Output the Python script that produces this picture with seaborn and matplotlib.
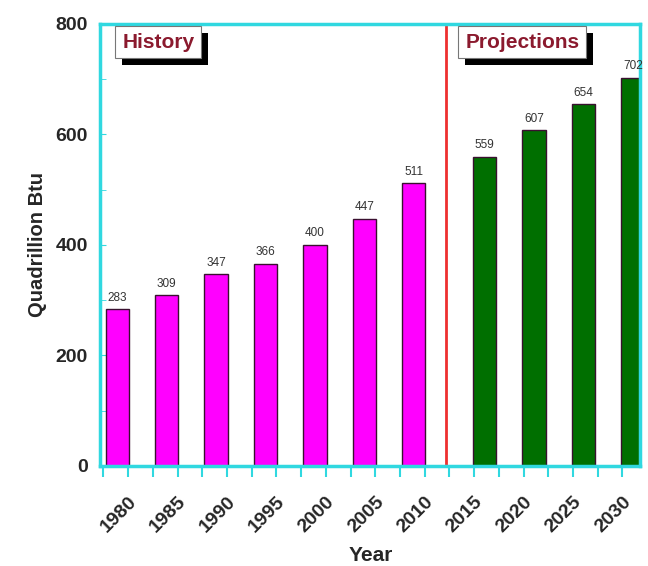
import matplotlib
matplotlib.use("Agg")
import matplotlib.pyplot as plt
import matplotlib.patheffects as pe
import matplotlib.transforms as mtransforms
from matplotlib.ticker import MultipleLocator
import seaborn as sns
import pandas as pd

# data
hist_years = [1980, 1985, 1990, 1995, 2000, 2005, 2010]
hist_values = [283, 309, 347, 366, 400, 447, 511]
proj_years = [2015, 2020, 2025, 2030]
proj_values = [559, 607, 654, 702]
tick_years = [1980, 1985, 1990, 1995, 2000, 2005, 2010, 2015, 2020, 2025, 2030]

sns.set_style("white")
plt.rcParams['font.family'] = ['Liberation Sans', 'DejaVu Sans']

df = pd.DataFrame({
    "year": hist_years + proj_years,
    "value": hist_values + proj_values,
    "period": ["History"] * len(hist_years) + ["Projections"] * len(proj_years),
})
# the original draws history bars left of their labels, projections right of them
df["pos"] = df["year"] + df["period"].map({"History": -1.1, "Projections": 1.05})

fig = plt.figure(figsize=(6.48, 5.66), dpi=100)
ax = fig.add_axes([0.155, 0.177, 0.833, 0.781])

sns.barplot(data=df, x="pos", y="value", hue="period", native_scale=True,
            palette={"History": "#ff00ff", "Projections": "#006f00"},
            saturation=1, width=0.47, edgecolor="#3a1030", linewidth=1.0,
            legend=False, dodge=False, ax=ax)

for x, v in zip(df["pos"], df["value"]):
    ax.text(x, v + 10, str(v), ha="center", va="bottom", fontsize=8.5, color="#333333")

ax.axvline(2012.2, color="#ee3030", lw=2)

ax.set_xlim(1977.2, 2031.8)
ax.set_ylim(0, 800)
ax.set_xticks(tick_years)
ax.set_xticklabels([str(y) for y in tick_years], rotation=45, ha="right", va="top",
                   rotation_mode="anchor", fontsize=14, fontweight="bold")
shift = mtransforms.ScaledTranslation(-1 / 72, 0, fig.dpi_scale_trans)
for lab in ax.get_xticklabels():
    lab.set_transform(lab.get_transform() + shift)
ax.xaxis.set_minor_locator(MultipleLocator(2.5))
ax.set_yticks([0, 200, 400, 600, 800])
ax.set_yticklabels(["0", "200", "400", "600", "800"], fontsize=14, fontweight="bold")
ax.yaxis.set_minor_locator(MultipleLocator(100))
ax.tick_params(axis="x", which="both", direction="out", length=8, color="#30d8e0",
               width=1.5, bottom=True, pad=12)
ax.tick_params(axis="y", which="both", direction="in", length=4, color="#30d8e0",
               left=True, pad=9)
ax.set_xlabel("Year", fontsize=15, fontweight="bold", labelpad=7)
ax.set_ylabel("Quadrillion Btu", fontsize=14.5, fontweight="bold", labelpad=6)

for s in ax.spines.values():
    s.set_color("#30d8e0")
    s.set_linewidth(2.5)

shadow = [pe.SimplePatchShadow(offset=(5, -5), shadow_rgbFace="black", alpha=1.0),
          pe.Normal()]
for label, x in [("History", 1979.4), ("Projections", 2014.1)]:
    t = ax.text(x, 767, label, ha="left", va="center", fontsize=15,
                fontweight="bold", color="#8b1a2e",
                bbox=dict(boxstyle="square,pad=0.33", fc="white", ec="#777777", lw=0.8))
    t.get_bbox_patch().set_path_effects(shadow)

fig.savefig("out.png", dpi=100)
